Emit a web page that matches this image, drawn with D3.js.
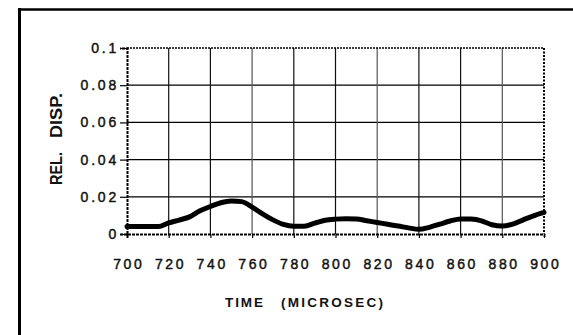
<!DOCTYPE html>
<html>
<head>
<meta charset="utf-8">
<script src="https://cdn.jsdelivr.net/npm/d3@7"></script>
<style>
  html, body { margin: 0; padding: 0; background: #fff; }
  svg { display: block; }
  text { font-family: "Liberation Sans", Arial, sans-serif; fill: #111; }
</style>
</head>
<body>
<svg id="chart" width="573" height="335"></svg>
<script>
// Relative displacement sampled every 5 microseconds
const timeUs = [700, 705, 710, 715, 720, 725, 730, 735, 740, 745, 750, 755, 760, 765, 770, 775, 780,
  785, 790, 795, 800, 805, 810, 815, 820, 825, 830, 835, 840, 845, 850, 855, 860, 865, 870, 875, 880,
  885, 890, 895, 900];
const relDisp = [0.0040, 0.0040, 0.0040, 0.0040, 0.0060, 0.0075, 0.0092, 0.0125, 0.0148, 0.0168, 0.0178,
  0.0174, 0.0145, 0.0108, 0.0076, 0.0052, 0.0042, 0.0042, 0.0058, 0.0074, 0.0080, 0.0082, 0.0081,
  0.0071, 0.0062, 0.0052, 0.0043, 0.0033, 0.0025, 0.0036, 0.0053, 0.0070, 0.0081, 0.0080, 0.0071,
  0.0050, 0.0043, 0.0053, 0.0076, 0.0098, 0.0116];
const xTicks = [700, 720, 740, 760, 780, 800, 820, 840, 860, 880, 900];
const yTicks = [0, 0.02, 0.04, 0.06, 0.08, 0.1];
const yTickLabels = ["0", "0.02", "0.04", "0.06", "0.08", "0.1"];
const xTitle = ["TIME", "(MICROSEC)"];
const yTitle = ["REL.", "DISP."];

const svg = d3.select("#chart");
const plot = { left: 127, right: 544, top: 48, bottom: 234 };

const x = d3.scaleLinear().domain([700, 900]).range([plot.left, plot.right]);
const y = d3.scaleLinear().domain([0, 0.1]).range([plot.bottom, plot.top]);

// outer frame (left and top edges)
svg.append("line").attr("x1", 19.5).attr("x2", 19.5).attr("y1", 8).attr("y2", 335)
  .attr("stroke", "#000").attr("stroke-width", 3);
svg.append("line").attr("x1", 18).attr("x2", 573).attr("y1", 9.5).attr("y2", 9.5)
  .attr("stroke", "#000").attr("stroke-width", 2.5);

// horizontal gridlines
svg.append("g").selectAll("line").data(yTicks.filter(d => d > 0 && d < 0.1)).join("line")
  .attr("x1", plot.left).attr("x2", plot.right)
  .attr("y1", d => y(d)).attr("y2", d => y(d))
  .attr("stroke", "#000").attr("stroke-width", 1.3);

// vertical gridlines
svg.append("g").selectAll("line").data(xTicks.filter(d => d > 700 && d < 900)).join("line")
  .attr("x1", d => x(d)).attr("x2", d => x(d))
  .attr("y1", plot.top).attr("y2", plot.bottom)
  .attr("stroke", (d, i) => i % 3 === 2 ? "#555" : "#111").attr("stroke-width", 1.2);

// plot border: top and right edges
svg.append("line").attr("x1", plot.left).attr("x2", plot.right).attr("y1", plot.top).attr("y2", plot.top)
  .attr("stroke", "#000").attr("stroke-width", 1.6).attr("stroke-dasharray", "2,1");
svg.append("line").attr("x1", plot.right).attr("x2", plot.right).attr("y1", plot.top).attr("y2", plot.bottom)
  .attr("stroke", "#000").attr("stroke-width", 2).attr("stroke-dasharray", "2,1.5");

// y axis
const yAxis = d3.axisLeft(y).tickValues(yTicks).tickSize(7).tickPadding(1)
  .tickFormat((d, i) => yTickLabels[i]);
const gy = svg.append("g").attr("transform", `translate(${plot.left},0)`).call(yAxis);
gy.select(".domain").attr("stroke", "#000").attr("stroke-width", 2).attr("stroke-dasharray", "3,1");
gy.selectAll(".tick line").attr("stroke", "#000").attr("stroke-width", 1.2);
gy.selectAll(".tick text").attr("font-size", 14).attr("letter-spacing", "2.8px")
  .attr("font-family", "'Liberation Sans', Arial, sans-serif").attr("fill", "#111")
  .attr("stroke", "#111").attr("stroke-width", 0.45);

// x axis
const xAxis = d3.axisBottom(x).tickValues(xTicks).tickSize(4).tickPadding(21).tickFormat(d3.format("d"));
const gx = svg.append("g").attr("transform", `translate(0,${plot.bottom})`).call(xAxis);
gx.select(".domain").attr("stroke", "#000").attr("stroke-width", 1.8).attr("stroke-dasharray", "3,1");
gx.selectAll(".tick line").attr("stroke", "#000").attr("stroke-width", 1.2);
gx.selectAll(".tick text").attr("font-size", 14).attr("letter-spacing", "2.6px")
  .attr("font-family", "'Liberation Sans', Arial, sans-serif").attr("fill", "#111").attr("dx", "1.3px")
  .attr("stroke", "#111").attr("stroke-width", 0.45);

// displacement curve
const line = d3.line()
  .x((d, i) => x(timeUs[i]))
  .y(d => y(d))
  .curve(d3.curveMonotoneX);
svg.append("path").datum(relDisp)
  .attr("d", line)
  .attr("fill", "none").attr("stroke", "#000").attr("stroke-width", 5)
  .attr("stroke-linejoin", "round").attr("stroke-linecap", "round");

// x axis title
svg.append("text").attr("x", 225).attr("y", 307).attr("font-size", 13.5).attr("font-weight", "bold")
  .attr("textLength", 38).attr("lengthAdjust", "spacing").text(xTitle[0]);
svg.append("text").attr("x", 281).attr("y", 307).attr("font-size", 13.5).attr("font-weight", "bold")
  .attr("textLength", 102).attr("lengthAdjust", "spacing").text(xTitle[1]);

// y axis title (two words, rotated)
svg.append("text")
  .attr("transform", "translate(62,168.5) rotate(-90)")
  .attr("text-anchor", "middle")
  .attr("font-size", 16).attr("font-weight", "bold")
  .attr("textLength", 33).attr("lengthAdjust", "spacingAndGlyphs")
  .attr("fill", "#2a2a2a")
  .text(yTitle[0]);
svg.append("text")
  .attr("transform", "translate(62,115.5) rotate(-90)")
  .attr("text-anchor", "middle")
  .attr("font-size", 16).attr("font-weight", "bold")
  .attr("textLength", 45).attr("lengthAdjust", "spacingAndGlyphs")
  .attr("fill", "#2a2a2a")
  .text(yTitle[1]);
</script>
</body>
</html>
